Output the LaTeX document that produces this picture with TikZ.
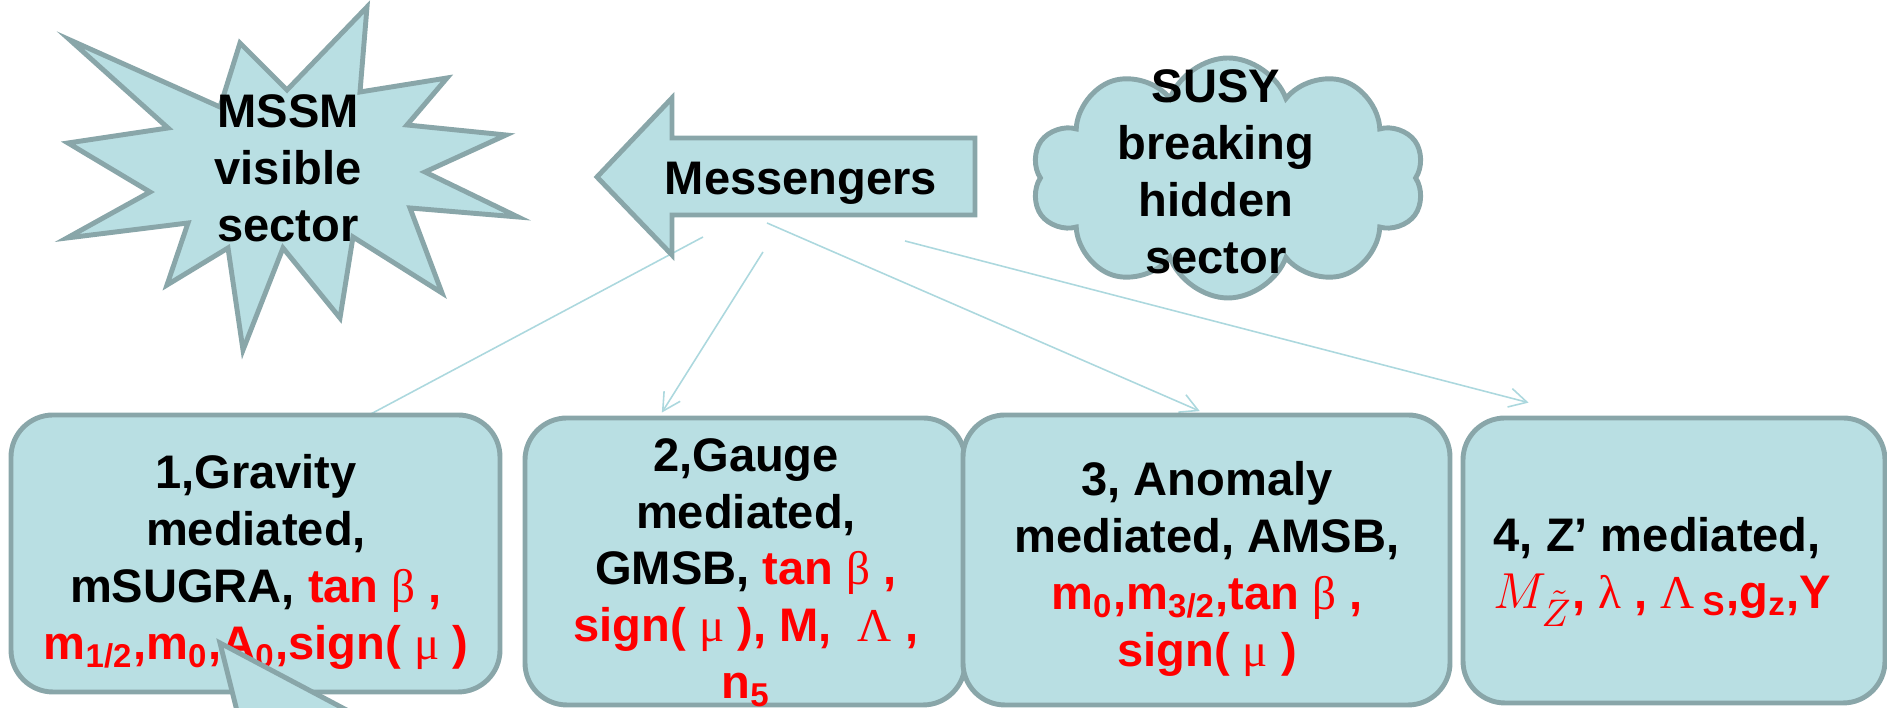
\documentclass[tikz,border=0pt]{standalone}
\usepackage{fontspec}
\setmainfont{Liberation Sans}
\newfontfamily\grkfont{Liberation Serif}
\usetikzlibrary{shapes.symbols,arrows.meta,backgrounds}

\definecolor{boxfill}{RGB}{185,223,227}
\definecolor{boxline}{RGB}{137,166,169}
\definecolor{linkcol}{RGB}{172,216,222}

\newcommand{\gk}[1]{{\grkfont\mdseries #1}}
\newcommand{\rd}[1]{\textcolor{red}{#1}}
\newcommand{\sbs}[1]{\textsubscript{#1}}

\begin{document}
\begin{tikzpicture}[
    shapeline/.style={draw=boxline, fill=boxfill, line width=1.4pt},
    modebox/.style={shapeline, rounded corners=0.42cm, inner sep=0pt},
    txt/.style={font=\bfseries\fontsize{13.4}{16.2}\selectfont, align=center, inner sep=0pt},
    link/.style={draw=linkcol, line width=0.45pt, -{Straight Barb[length=5pt,width=5.4pt]}, shorten >=1pt}
  ]
	\useasboundingbox (0,0) rectangle (18.87,7.08);

	% visible sector
	\draw[shapeline] (0.70,6.68) -- (2.20,6.01) -- (2.40,6.65) -- (2.87,6.18)
        -- (3.67,7.01) -- (3.60,6.16) -- (4.47,6.30) -- (4.07,5.83) -- (5.06,5.73)
        -- (4.25,5.36) -- (5.18,4.91) -- (4.10,5.00) -- (4.42,4.15) -- (3.53,4.71)
        -- (3.40,3.90) -- (2.83,4.60) -- (2.43,3.58) -- (2.28,4.60) -- (1.67,4.23)
        -- (1.88,4.85) -- (0.67,4.70) -- (1.50,5.16) -- (0.68,5.65) -- (1.68,5.80)
        -- cycle;
	\node[txt] (mssm) at (2.88,5.40) {MSSM\\visible\\sector};

	% messengers
	\draw[shapeline] (5.97,5.31) -- (6.72,6.10) -- (6.72,5.70) -- (9.75,5.70)
        -- (9.75,4.93) -- (6.72,4.93) -- (6.72,4.53) -- cycle;
	\node[txt, anchor=base] (mess) at (8.01,5.13) {Messengers};

	% hidden sector
	\node[shapeline, cloud, cloud puffs=10, cloud puff arc=140, aspect=1.65,
        minimum width=3.93cm, minimum height=2.40cm, inner sep=0pt] (hidden)
        at (12.28,5.30) {};
	\node[txt] (hiddentxt) at (12.16,5.36) {SUSY\\breaking\\hidden\\sector};

	% mediation schemes
	\node[modebox, minimum width=4.89cm, minimum height=2.77cm] (grav) at (2.555,1.545) {};
	\node[modebox, minimum width=4.40cm, minimum height=2.87cm] (gmsb) at (7.45,1.465) {};
	\node[modebox, minimum width=4.87cm, minimum height=2.90cm] (amsb) at (12.065,1.48) {};
	\node[modebox, minimum width=4.22cm, minimum height=2.85cm] (zmed) at (16.74,1.475) {};

	\node[txt] (gravtxt) at (2.56,1.46) {1,Gravity\\mediated,\\mSUGRA, \rd{tan \gk{β} ,}\\
        \rd{m\sbs{1/2},m\sbs{0},A\sbs{0},sign( \gk{μ} )}};
	\node[txt] (gmsbtxt) at (7.46,1.355) {2,Gauge\\mediated,\\GMSB, \rd{tan \gk{β} ,}\\
        \rd{sign( \gk{μ} ), M, \ \gk{Λ} ,}\\\rd{n\sbs{5}}};
	\node[txt] (amsbtxt) at (12.07,1.39) {3, Anomaly\\mediated, AMSB,\\
        \rd{m\sbs{0},m\sbs{3/2},tan \gk{β} ,}\\\rd{sign( \gk{μ} )}};
	\node[txt, align=left, anchor=west] (zmedtxt) at (14.93,1.365) {4, Z’ mediated,\\
        \rd{{\fontsize{15}{16.2}\selectfont$M_{\tilde{Z}}$}, \gk{λ} , \gk{Λ}\,\sbs{S},g\sbs{z},Y}};

	% links
	\coordinate (m1) at (7.03,4.71);
	\coordinate (m2) at (7.63,4.56);
	\coordinate (m3) at (7.67,4.85);
	\coordinate (m4) at (9.05,4.67);
	\begin{scope}[on background layer]
	\draw[link] (m1) -- ([xshift=0.805cm,yshift=-0.2cm]grav.north);
	\draw[link] (m2) -- ([xshift=-0.85cm]gmsb.north);
	\draw[link] (m3) -- ([xshift=-0.035cm]amsb.north);
	\draw[link] (m4) -- ([xshift=-1.42cm,yshift=0.12cm]zmed.north);
	\end{scope}

	% pointer from below
	\draw[shapeline] (2.20,0.65) -- (2.40,-0.15) -- (3.71,-0.15) -- cycle;
\end{tikzpicture}
\end{document}
